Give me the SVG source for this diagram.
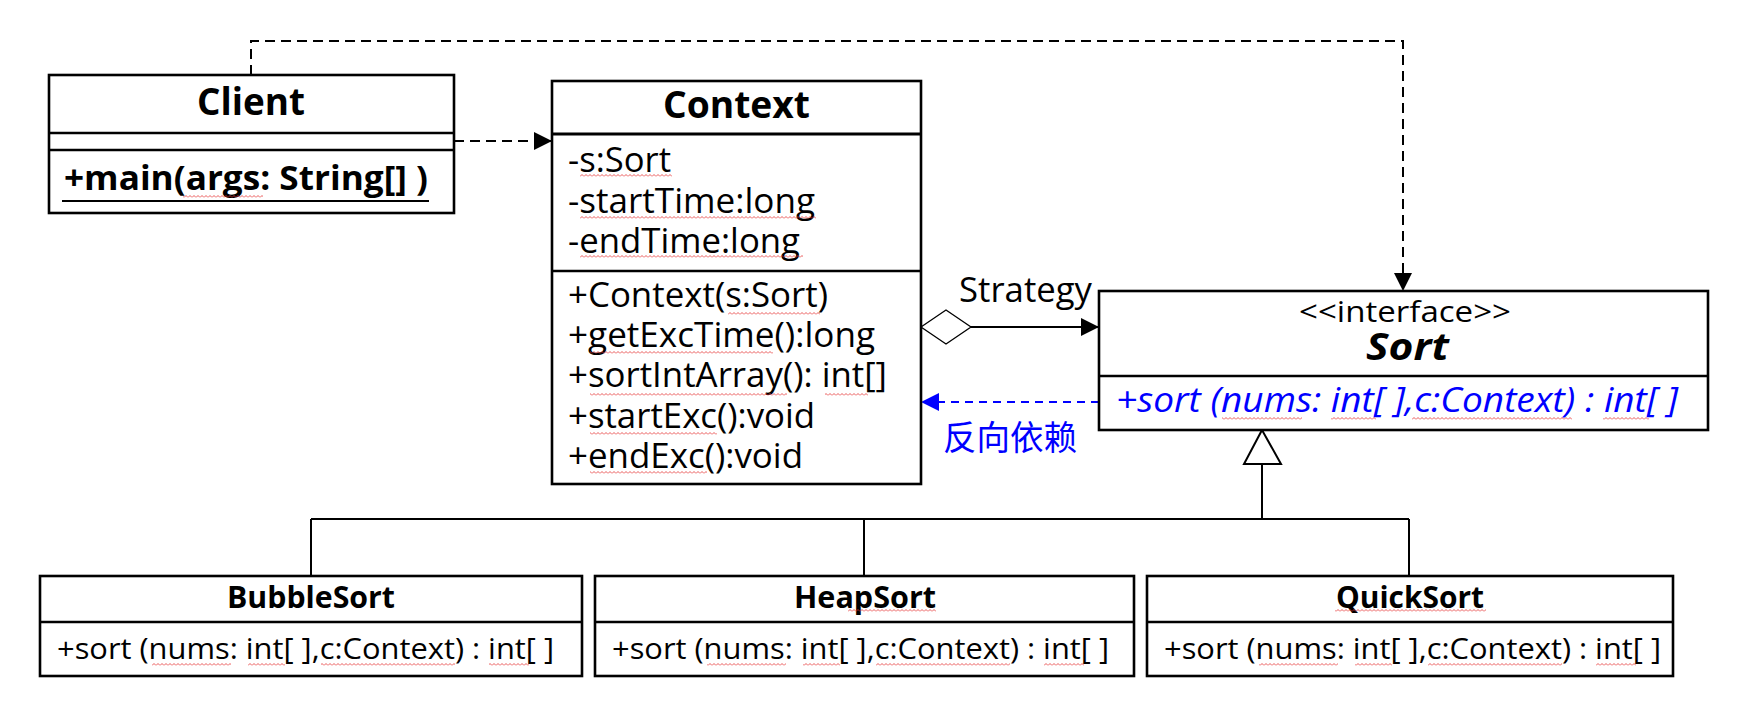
<svg xmlns="http://www.w3.org/2000/svg" width="1754" height="723" viewBox="0 0 1754 723">
<style>
.box{fill:#fff;stroke:#000;stroke-width:2.6}
.div{stroke:#000;stroke-width:2.6}
.t{font-family:"Open Sans","Noto Sans","Noto Sans CJK SC",sans-serif;fill:#000}
.b{font-weight:bold}
.f34{font-size:34px}
.f30{font-size:30px}
.f38{font-size:38px}
.blue{fill:#0000ff}
.conn{stroke:#000;stroke-width:2;fill:none}
.dash{stroke-dasharray:10 6}
.bdash{stroke:#0000ff;stroke-width:2;fill:none;stroke-dasharray:8 6}
.sq{fill:url(#sq)}
</style>
<defs>
<marker id="ah" viewBox="0 0 18 18" refX="18" refY="9" markerWidth="18" markerHeight="18" markerUnits="userSpaceOnUse" orient="auto">
<path d="M0,0 L18,9 L0,18 z" fill="#000"/>
</marker>
<marker id="ahb" viewBox="0 0 18 18" refX="18" refY="9" markerWidth="18" markerHeight="18" markerUnits="userSpaceOnUse" orient="auto">
<path d="M0,0 L18,9 L0,18 z" fill="#0000ff"/>
</marker>
<pattern id="sq" patternUnits="userSpaceOnUse" width="4" height="3">
<path d="M0,2.5 L2,0.5 L4,2.5" stroke="#e53030" stroke-width="0.8" fill="none"/>
</pattern>
</defs>

<g id="connectors">
<path class="conn dash" d="M251,75 V41 H1403 V291" marker-end="url(#ah)"/>
<path class="conn dash" d="M454,141 H552" marker-end="url(#ah)"/>
<polygon points="921,327 946,310 971,327 946,344" fill="#fff" stroke="#000" stroke-width="1.3"/>
<path class="conn" d="M971,327 H1099" marker-end="url(#ah)"/>
<path class="bdash" d="M1099,402 H921" marker-end="url(#ahb)"/>
<path class="conn" d="M1262,464 V519 M311,519 H1409 M311,519 V576 M864,519 V576 M1409,519 V576"/>
<polygon points="1262,430 1244,464 1281,464" fill="#fff" stroke="#000" stroke-width="2"/>
<text class="t f34" x="959" y="302" textLength="133" lengthAdjust="spacingAndGlyphs">Strategy</text>
<text class="t f34 blue" x="943" y="450" textLength="134" lengthAdjust="spacingAndGlyphs" style="font-family:'Noto Sans CJK SC',sans-serif">反向依赖</text>
</g>

<g id="client">
<rect class="box" x="49" y="75" width="405" height="138"/>
<line class="div" x1="49" y1="133" x2="454" y2="133"/>
<line class="div" x1="49" y1="150" x2="454" y2="150"/>
<text class="t b f38" x="197" y="115" textLength="108" lengthAdjust="spacingAndGlyphs">Client</text>
<text class="t b f34" x="64" y="190" textLength="364" lengthAdjust="spacingAndGlyphs">+main(args: String[] )</text>
<line x1="62" y1="201" x2="429" y2="201" stroke="#000" stroke-width="2.2"/>
<rect class="sq" x="183" y="195" width="80" height="3"/>
</g>

<g id="context">
<rect class="box" x="552" y="81" width="369" height="403"/>
<line class="div" x1="552" y1="134" x2="921" y2="134" style="stroke-width:3.2"/>
<line class="div" x1="552" y1="271" x2="921" y2="271"/>
<text class="t b f38" x="663" y="118" textLength="147" lengthAdjust="spacingAndGlyphs">Context</text>
<text class="t f34" x="568" y="172" textLength="103" lengthAdjust="spacingAndGlyphs">-s:Sort</text>
<text class="t f34" x="568" y="213" textLength="247" lengthAdjust="spacingAndGlyphs">-startTime:long</text>
<text class="t f34" x="568" y="253" textLength="232" lengthAdjust="spacingAndGlyphs">-endTime:long</text>
<text class="t f34" x="568" y="307" textLength="260" lengthAdjust="spacingAndGlyphs">+Context(s:Sort)</text>
<text class="t f34" x="568" y="347" textLength="307" lengthAdjust="spacingAndGlyphs">+getExcTime():long</text>
<text class="t f34" x="568" y="387" textLength="319" lengthAdjust="spacingAndGlyphs">+sortIntArray(): int[]</text>
<text class="t f34" x="568" y="428" textLength="247" lengthAdjust="spacingAndGlyphs">+startExc():void</text>
<text class="t f34" x="568" y="468" textLength="235" lengthAdjust="spacingAndGlyphs">+endExc():void</text>
<rect class="sq" x="580" y="174" width="92" height="3"/>
<rect class="sq" x="580" y="216" width="236" height="3"/>
<rect class="sq" x="580" y="255" width="223" height="3"/>
<rect class="sq" x="728" y="312" width="92" height="3"/>
<rect class="sq" x="590" y="351" width="183" height="3"/>
<rect class="sq" x="590" y="393" width="197" height="3"/>
<rect class="sq" x="825" y="393" width="43" height="3"/>
<rect class="sq" x="590" y="432" width="127" height="3"/>
<rect class="sq" x="590" y="471" width="117" height="3"/>
</g>

<g id="sort">
<rect class="box" x="1099" y="291" width="609" height="139"/>
<line class="div" x1="1099" y1="376" x2="1708" y2="376"/>
<text class="t f30" x="1299" y="322" textLength="212" lengthAdjust="spacingAndGlyphs">&lt;&lt;interface&gt;&gt;</text>
<text class="t b f38" x="1366" y="360" textLength="83" lengthAdjust="spacingAndGlyphs" font-style="italic">Sort</text>
<text class="t f34 blue" x="1116" y="412" textLength="562" lengthAdjust="spacingAndGlyphs" font-style="italic">+sort (nums: int[ ],c:Context) : int[ ]</text>
<rect class="sq" x="1222" y="417" width="80" height="3"/>
<rect class="sq" x="1331" y="417" width="45" height="3"/>
<rect class="sq" x="1412" y="417" width="160" height="3"/>
<rect class="sq" x="1603" y="417" width="46" height="3"/>
</g>

<g id="bubblesort">
<rect class="box" x="40" y="576" width="542" height="100"/>
<line class="div" x1="40" y1="622" x2="582" y2="622"/>
<text class="t b f30" x="227" y="608" textLength="168" lengthAdjust="spacingAndGlyphs">BubbleSort</text>
<text class="t f30" x="57" y="659" textLength="497" lengthAdjust="spacingAndGlyphs">+sort (nums: int[ ],c:Context) : int[ ]</text>
<rect class="sq" x="152" y="663" width="79" height="3"/>
<rect class="sq" x="248" y="663" width="37" height="3"/>
<rect class="sq" x="321" y="663" width="134" height="3"/>
<rect class="sq" x="489" y="663" width="40" height="3"/>
</g>

<g id="heapsort">
<rect class="box" x="595" y="576" width="539" height="100"/>
<line class="div" x1="595" y1="622" x2="1134" y2="622"/>
<text class="t b f30" x="794" y="608" textLength="142" lengthAdjust="spacingAndGlyphs">HeapSort</text>
<text class="t f30" x="612" y="659" textLength="497" lengthAdjust="spacingAndGlyphs">+sort (nums: int[ ],c:Context) : int[ ]</text>
<rect class="sq" x="848" y="609" width="88" height="3"/>
<rect class="sq" x="707" y="663" width="79" height="3"/>
<rect class="sq" x="803" y="663" width="37" height="3"/>
<rect class="sq" x="876" y="663" width="134" height="3"/>
<rect class="sq" x="1044" y="663" width="40" height="3"/>
</g>

<g id="quicksort">
<rect class="box" x="1147" y="576" width="526" height="100"/>
<line class="div" x1="1147" y1="622" x2="1673" y2="622"/>
<text class="t b f30" x="1336" y="608" textLength="148" lengthAdjust="spacingAndGlyphs">QuickSort</text>
<text class="t f30" x="1164" y="659" textLength="497" lengthAdjust="spacingAndGlyphs">+sort (nums: int[ ],c:Context) : int[ ]</text>
<rect class="sq" x="1335" y="609" width="151" height="3"/>
<rect class="sq" x="1259" y="663" width="79" height="3"/>
<rect class="sq" x="1355" y="663" width="37" height="3"/>
<rect class="sq" x="1428" y="663" width="134" height="3"/>
<rect class="sq" x="1596" y="663" width="40" height="3"/>
</g>
</svg>
